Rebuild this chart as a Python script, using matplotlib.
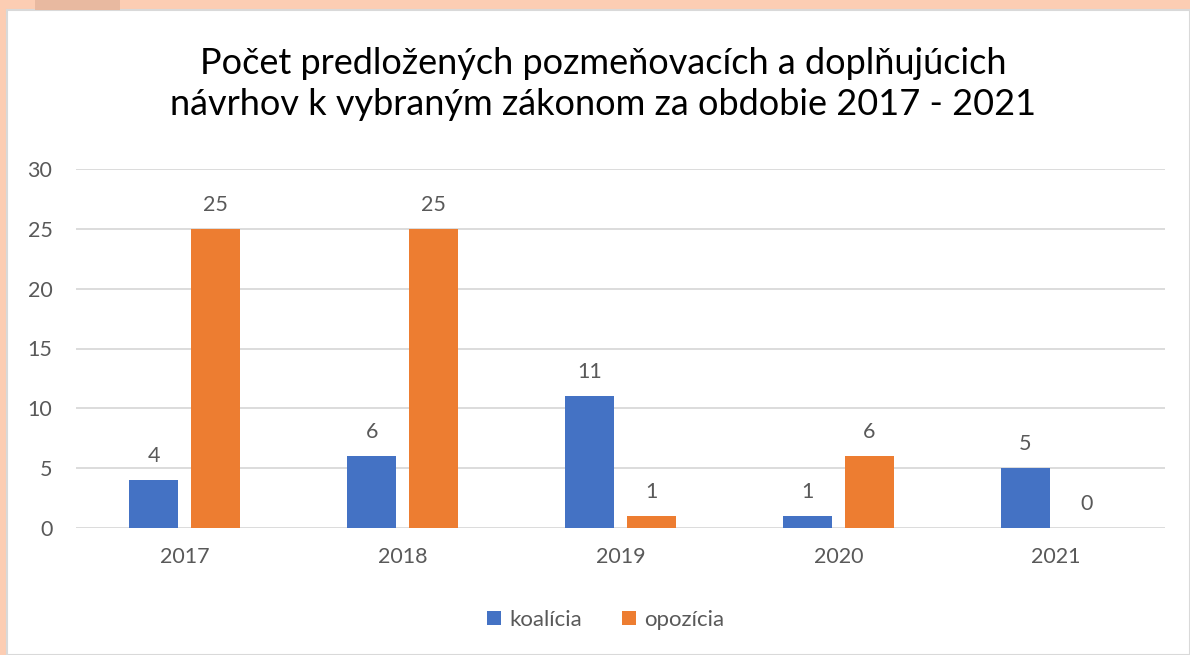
import matplotlib
matplotlib.use("Agg")
import matplotlib.pyplot as plt
from matplotlib.patches import Rectangle
import numpy as np

years = ["2017", "2018", "2019", "2020", "2021"]
koalicia = [4, 6, 11, 1, 5]
opozicia = [25, 25, 1, 6, 0]
series_names = ["koalícia", "opozícia"]
title = "Počet predložených pozmeňovacích a doplňujúcich\nnávrhov k vybraným zákonom za obdobie 2017 - 2021"
yticks = [0, 5, 10, 15, 20, 25, 30]

plt.rcParams['font.family'] = ['Lato', 'DejaVu Sans']

fig = plt.figure(figsize=(11.9, 6.55), dpi=100)
fig.patch.set_facecolor("#FCCDB3")
# white chart area
fig.patches.append(Rectangle((7/1190, 0), 1 - 7/1190, 1 - 10/655, transform=fig.transFigure,
                             facecolor="white", edgecolor="#D9D9D9", linewidth=1.5, zorder=-5))
fig.patches.append(Rectangle((35/1190, 1 - 10/655), 85/1190, 10/655, transform=fig.transFigure,
                             facecolor="#E8B9A0", edgecolor="none", zorder=-5))

ax = fig.add_axes([76/1190, 1 - 528/655, (1165 - 76)/1190, (528 - 169)/655])
ax.set_facecolor("none")
ax.set_zorder(2)
x = np.arange(len(years))
w = 0.225
off = 0.142
gray = "#595959"
b1 = ax.bar(x - off, koalicia, w, color="#4472C4", label=series_names[0], zorder=3)
b2 = ax.bar(x + off, opozicia, w, color="#ED7D31", label=series_names[1], zorder=3)
for bars, vals in ((b1, koalicia), (b2, opozicia)):
    for b, v in zip(bars, vals):
        ax.annotate(str(v), (b.get_x() + b.get_width() / 2, v), xytext=(0, 10),
                    textcoords="offset points", ha="center", va="bottom",
                    fontsize=15.5, color=gray)

ax.set_xlim(-0.5, len(years) - 0.5)
ax.set_ylim(0, 30)
ax.set_yticks(yticks)
ax.set_xticks(x)
ax.set_xticklabels(years)
ax.grid(axis="y", color="#D9D9D9", linewidth=1.3, zorder=0)
for s in ax.spines.values():
    s.set_visible(False)
ax.tick_params(axis="both", length=0, labelsize=15.5, colors=gray)
ax.tick_params(axis="y", pad=17)
ax.tick_params(axis="x", pad=14)

fig.text(603/1190, 1 - 84/655, title, ha="center", va="center", fontsize=26,
         color="#000000", linespacing=1.3)

fig.legend(handles=[b1, b2], labels=series_names, loc="center", bbox_to_anchor=(606/1190, 1 - 620/655),
           ncol=2, frameon=False, fontsize=16, labelcolor=gray, handlelength=0.6, handleheight=0.6,
           columnspacing=1.8, handletextpad=0.4)

fig.savefig("out.png", dpi=100, facecolor=fig.get_facecolor())
